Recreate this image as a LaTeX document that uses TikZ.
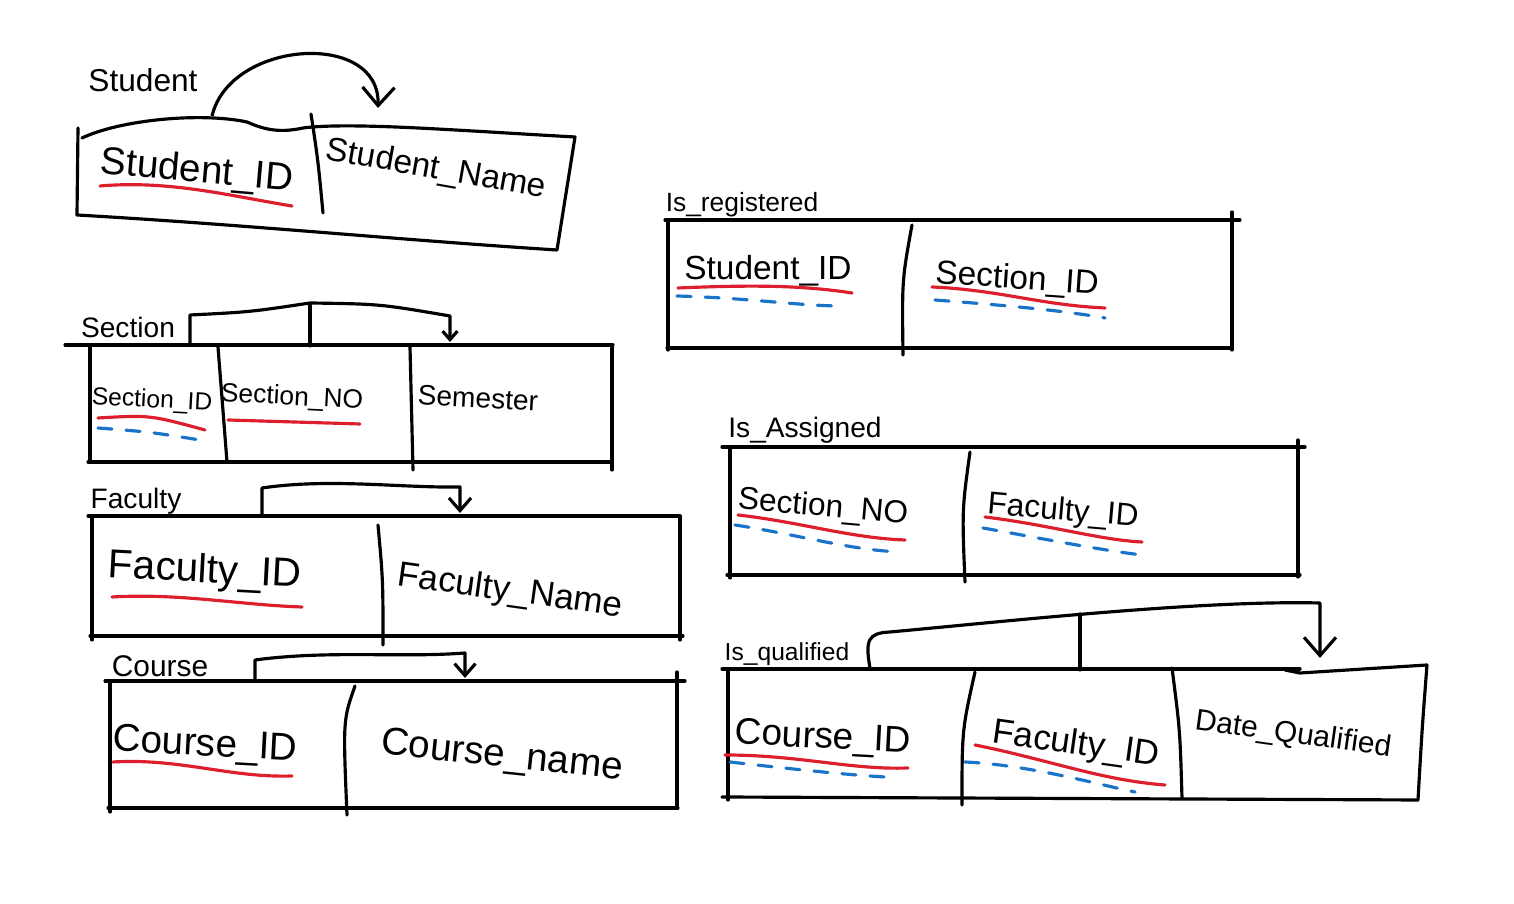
\documentclass[tikz,border=0pt]{standalone}
\usepackage{fontspec}
\setmainfont{Liberation Sans}
\usetikzlibrary{arrows.meta}
\definecolor{keyred}{RGB}{220,30,45}
\definecolor{fkblue}{RGB}{25,115,200}
\tikzset{
  edge/.style={line width=0.9pt, line cap=round, line join=round},
  pk/.style={keyred, line width=0.9pt, line cap=round},
  fk/.style={fkblue, line width=0.9pt, line cap=round, dash pattern=on 4pt off 4pt},
  fd/.style={line width=0.9pt, line join=round, -{Straight Barb[length=4pt, width=7pt, scale=#1]}},
  fd/.default=1,
  attr/.style={font=\fontsize{#1}{#1}\selectfont, inner sep=0pt},
  relname/.style={font=\fontsize{#1}{#1}\selectfont, inner sep=0pt},
}
\begin{document}
\begin{tikzpicture}[x=0.01cm, y=-0.01cm]
  \useasboundingbox (0,0) rectangle (1514,904);

  % Student
  \draw [edge] (78,128) -- (77,215);
  \draw [edge] (77,215) .. controls (250,225) and (400,240) .. (557,250) -- (575,137)
    .. controls (450,130) and (350,122) .. (303,128) .. controls (280,133) and (265,130) .. (247,122)
    .. controls (200,112) and (120,120) .. (82,138);
  \draw [edge] (311,114) .. controls (318,160) .. (323,213);
  \coordinate (stuFrom) at (212,116);
  \coordinate (stuTo) at (378,108);
  \draw [fd=1.3] (stuFrom) .. controls (230,40) and (380,30) .. (stuTo);
  \node [relname=9] (student) at (143,80) {Student};
  \node [attr=11, rotate=-5] (stuID) at (197,172) {Student\_ID};
  \node [attr=9.5, rotate=-10] (stuName) at (436,170) {Student\_Name};
  \draw [pk] (100,186) .. controls (170,180) and (230,196) .. (292,206);

  % Section
  \draw [edge] (65,345) -- (613,345);
  \draw [edge] (88,462) -- (612,462);
  \draw [edge] (90,347) -- (90,462);
  \draw [edge] (218,347) -- (227,462);
  \draw [edge] (410,347) -- (413,470);
  \draw [edge] (612,345) -- (612,470);
  \coordinate (secFrom) at (190,345);
  \coordinate (secMid) at (310,346);
  \coordinate (secTo) at (450,342);
  \draw [fd=0.6] (secFrom) -- (190,315) .. controls (250,312) .. (310,303) .. controls (380,304) .. (450,316) -- (secTo);
  \draw [edge] (secMid) -- (310,304);
  \node [relname=8] (section) at (128,327) {Section};
  \node [attr=7, rotate=-3] (secID) at (152,401) {Section\_ID};
  \node [attr=7.5, rotate=-3] (secNO) at (292,398) {Section\_NO};
  \node [attr=8, rotate=-3] (semester) at (478,398) {Semester};
  \draw [pk] (98,418) .. controls (150,415) .. (205,430);
  \draw [fk] (98,428) .. controls (150,432) .. (200,440);
  \draw [pk] (228,420) -- (360,424);

  % Faculty
  \draw [edge] (88,516) -- (680,516);
  \draw [edge] (90,636) -- (683,636);
  \draw [edge] (92,516) -- (92,640);
  \draw [edge] (680,516) -- (680,640);
  \draw [edge] (378,525) .. controls (383,580) .. (383,645);
  \coordinate (facFrom) at (262,516);
  \coordinate (facTo) at (460,513);
  \draw [fd=0.9] (facFrom) -- (262,488) .. controls (330,478) and (400,488) .. (460,487) -- (facTo);
  \node [relname=8] (faculty) at (136,501) {Faculty};
  \node [attr=11.5, rotate=-3] (facID) at (205,572) {Faculty\_ID};
  \node [attr=10, rotate=-8] (facName) at (510,592) {Faculty\_Name};
  \draw [pk] (112,597) .. controls (180,593) and (240,605) .. (302,607);

  % Course
  \draw [edge] (105,681) -- (685,681);
  \draw [edge] (108,808) -- (678,808);
  \draw [edge] (110,681) -- (110,812);
  \draw [edge] (677,672) -- (677,808);
  \draw [edge] (355,686) .. controls (343,720) .. (347,815);
  \coordinate (crsFrom) at (255,681);
  \coordinate (crsTo) at (465,678);
  \draw [fd=0.85] (crsFrom) -- (255,660) .. controls (330,650) and (400,658) .. (465,653) -- (crsTo);
  \node [relname=8.5] (course) at (160,666) {Course};
  \node [attr=11, rotate=-3] (crsID) at (205,746) {Course\_ID};
  \node [attr=11, rotate=-6] (crsName) at (502,757) {Course\_name};
  \draw [pk] (113,762) .. controls (180,758) and (230,778) .. (292,776);

  % Is_registered
  \draw [edge] (665,220) -- (1240,220);
  \draw [edge] (667,348) -- (1232,348);
  \draw [edge] (668,220) -- (668,350);
  \draw [edge] (1232,212) -- (1232,350);
  \draw [edge] (912,225) .. controls (902,280) .. (903,355);
  \node [relname=7.5] (isReg) at (742,205) {Is\_registered};
  \node [attr=9.5] (regStu) at (768,271) {Student\_ID};
  \node [attr=9.5, rotate=-4] (regSec) at (1017,280) {Section\_ID};
  \draw [pk] (678,288) .. controls (750,285) and (800,285) .. (852,293);
  \draw [fk] (677,296) .. controls (750,298) and (800,306) .. (842,306);
  \draw [pk] (932,287) .. controls (1000,290) and (1040,305) .. (1105,308);
  \draw [fk] (935,300) .. controls (1000,305) and (1060,310) .. (1105,318);

  % Is_Assigned
  \draw [edge] (722,447) -- (1305,447);
  \draw [edge] (727,575) -- (1300,575);
  \draw [edge] (730,447) -- (730,578);
  \draw [edge] (1298,440) -- (1298,577);
  \draw [edge] (970,452) .. controls (962,510) .. (965,582);
  \node [relname=8] (isAsg) at (805,430) {Is\_Assigned};
  \node [attr=9, rotate=-5] (asgSec) at (823,508) {Section\_NO};
  \node [attr=9, rotate=-5] (asgFac) at (1063,512) {Faculty\_ID};
  \draw [pk] (738,515) .. controls (800,522) and (850,538) .. (905,540);
  \draw [fk] (735,525) .. controls (800,535) and (850,550) .. (900,552);
  \draw [pk] (985,517) .. controls (1050,525) and (1100,540) .. (1142,542);
  \draw [fk] (983,528) .. controls (1050,540) and (1100,550) .. (1142,555);

  % Is_qualified
  \draw [edge] (722,669) -- (1300,669);
  \draw [edge] (1285,670) -- (1300,673) -- (1427,665) .. controls (1422,730) .. (1418,800);
  \draw [edge] (722,797) -- (1418,800);
  \draw [edge] (728,669) -- (728,800);
  \draw [edge] (975,672) .. controls (962,730) .. (962,805);
  \draw [edge] (1172,668) .. controls (1180,730) .. (1182,798);
  \coordinate (qualFrom) at (870,668);
  \coordinate (qualMid) at (1080,670);
  \coordinate (qualTo) at (1320,658);
  \draw [fd=1.3] (qualFrom) .. controls (865,640) and (868,633) .. (890,632)
    .. controls (1000,622) and (1200,600) .. (1320,603) -- (qualTo);
  \draw [edge] (qualMid) -- (1080,614);
  \node [relname=7] (isQual) at (787,654) {Is\_qualified};
  \node [attr=10.5, rotate=-3] (qualCrs) at (823,739) {Course\_ID};
  \node [attr=10, rotate=-8] (qualFac) at (1076,745) {Faculty\_ID};
  \node [attr=8.5, rotate=-8] (qualDate) at (1293,735) {Date\_Qualified};
  \draw [pk] (725,755) .. controls (800,755) and (850,770) .. (908,768);
  \draw [fk] (730,762) .. controls (800,770) and (850,775) .. (885,777);
  \draw [pk] (975,745) .. controls (1050,760) and (1100,780) .. (1165,785);
  \draw [fk] (965,762) .. controls (1030,765) and (1100,785) .. (1135,792);
\end{tikzpicture}
\end{document}
